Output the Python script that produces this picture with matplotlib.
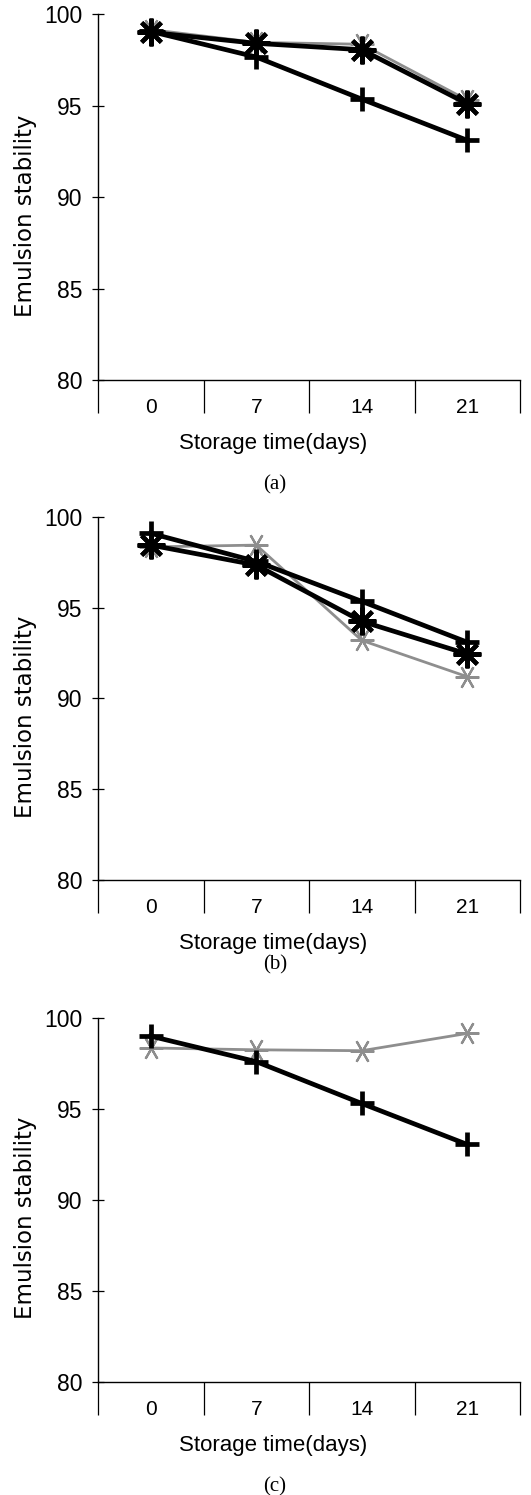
"""
Emulsion stability vs storage time, three stacked panels (a), (b), (c)
"""

import matplotlib

matplotlib.use("Agg")
import matplotlib.pyplot as plt  # noqa:E402
from matplotlib.ticker import FixedLocator  # noqa:E402

# data
days = ["0", "7", "14", "21"]

a_plus = [99.05, 97.65, 95.35, 93.1]
a_star = [99.0, 98.4, 98.05, 95.1]
a_cross = [99.15, 98.45, 98.35, 95.3]

b_plus = [99.1, 97.55, 95.35, 93.1]
b_star = [98.45, 97.35, 94.25, 92.45]
b_cross = [98.35, 98.45, 93.2, 91.2]

c_plus = [99.0, 97.6, 95.3, 93.05]
c_cross = [98.35, 98.25, 98.2, 99.15]

panel_tags = ["(a)", "(b)", "(c)"]

SANS = ["Liberation Sans", "DejaVu Sans"]
GRAY = "#8e8e8e"


def draw_series(ax, x, plus=None, star=None, cross=None):
    if cross is not None:
        ax.plot(x, cross, color=GRAY, lw=2.0, marker=(6, 2, 90),
                ms=17, mew=1.6, mec=GRAY, zorder=3, clip_on=False)
    if star is not None:
        ax.plot(x, star, color="black", lw=3.4, marker=(8, 2, 0),
                ms=20, mew=3.0, zorder=4, clip_on=False)
    if plus is not None:
        ax.plot(x, plus, color="black", lw=3.4, marker="+",
                ms=17, mew=3.4, zorder=5, clip_on=False)


def style_axes(ax):
    x = list(range(len(days)))
    ax.set_xlim(-0.5, len(days) - 0.5)
    ax.set_ylim(80, 100)
    for side in ["top", "right"]:
        ax.spines[side].set_visible(False)
    for side in ["left", "bottom"]:
        ax.spines[side].set_linewidth(1.0)

    ax.set_yticks([80, 85, 90, 95, 100])
    ax.tick_params(axis="y", direction="inout", length=8, width=0.9,
                   pad=7, labelsize=16.5)
    for lab in ax.get_yticklabels():
        lab.set_family(SANS)

    ax.set_xticks(x)
    ax.set_xticklabels(days)
    ax.xaxis.set_minor_locator(FixedLocator([i - 0.5 for i in range(len(days) + 1)]))
    ax.tick_params(axis="x", which="major", length=0, pad=13, labelsize=15)
    ax.tick_params(axis="x", which="minor", direction="out", length=24, width=0.9)
    for lab in ax.get_xticklabels():
        lab.set_family(SANS)

    ax.set_xlabel("Storage time(days)", fontsize=16, family=SANS)
    ax.xaxis.set_label_coords(0.415, -0.146)
    ax.set_ylabel("Emulsion stability", fontsize=16.5, family="DejaVu Sans")
    ax.yaxis.set_label_coords(-0.145, 0.45)
    return x


def main():
    fig = plt.figure(figsize=(5.31, 14.95), dpi=100)

    # axes boxes in figure fractions (left, bottom, width, height)
    boxes = [
        (0.1846, 0.7458, 0.7947, 0.2448),
        (0.1846, 0.4114, 0.7947, 0.2428),
        (0.1846, 0.0756, 0.7947, 0.2435),
    ]
    tag_y = [1 - 485 / 1495, 1 - 965 / 1495, 1 - 1487 / 1495]

    ax_a = fig.add_axes(boxes[0])
    x = style_axes(ax_a)
    draw_series(ax_a, x, plus=a_plus, star=a_star, cross=a_cross)

    ax_b = fig.add_axes(boxes[1])
    x = style_axes(ax_b)
    draw_series(ax_b, x, plus=b_plus, star=b_star, cross=b_cross)

    ax_c = fig.add_axes(boxes[2])
    x = style_axes(ax_c)
    draw_series(ax_c, x, plus=c_plus, cross=c_cross)

    for tag, ty in zip(panel_tags, tag_y):
        fig.text(275 / 531, ty, tag, ha="center", va="center",
                 fontsize=15, family=["Liberation Serif", "DejaVu Serif"])

    fig.savefig("out.png", dpi=100)
    plt.close(fig)


if __name__ == "__main__":
    main()
